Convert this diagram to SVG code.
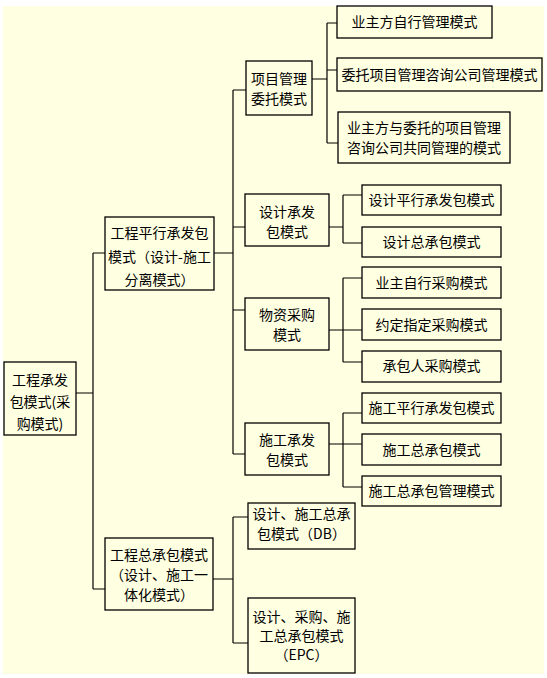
<svg xmlns="http://www.w3.org/2000/svg" width="547" height="678" viewBox="0 0 547 678">
<style>
.b{fill:none;stroke:#000;stroke-width:1.3}
.t{font-family:"SimSun","Noto Sans CJK SC",sans-serif;font-size:14px;fill:#000;text-anchor:middle}
.c{fill:none;stroke:#000;stroke-width:1.2}
</style>
<rect x="0" y="0" width="547" height="678" fill="#fff"/>
<rect x="3" y="6" width="541" height="668" fill="#ffffe1"/>
<g id="connectors">
<path class="c" d="M76,393H93M93,253V589M93,253H105M93,589H105"/>
<path class="c" d="M214,253H233M233,90V454M233,90H246M233,227H245M233,310H245M233,454H245"/>
<path class="c" d="M312,79H327M327,23V143M327,23H337M327,70H337M327,143H338"/>
<path class="c" d="M329,227H343M343,195V243M343,195H362M343,243H362"/>
<path class="c" d="M329,330H362M343,278V362M343,278H362M343,362H362"/>
<path class="c" d="M329,444H362M343,413V487M343,413H362M343,487H362"/>
<path class="c" d="M213,579H233M233,517V643M233,517H248M233,643H248"/>
</g>
<g id="root"><rect class="b" x="4" y="362" width="72" height="73"/>
<text class="t" x="40" y="385">工程承发</text><text class="t" x="40" y="407">包模式(采</text><text class="t" x="40" y="429">购模式)</text></g>
<g id="parallel"><rect class="b" x="105" y="217" width="109" height="73"/>
<text class="t" x="159.5" y="238">工程平行承发包</text><text class="t" x="159.5" y="262">模式（设计-施工</text><text class="t" x="159.5" y="285">分离模式）</text></g>
<g id="pm"><rect class="b" x="246" y="61" width="66" height="54"/>
<text class="t" x="279" y="84">项目管理</text><text class="t" x="279" y="104">委托模式</text></g>
<g id="pm1"><rect class="b" x="337" y="6" width="155" height="32"/>
<text class="t" x="414.5" y="27">业主方自行管理模式</text></g>
<g id="pm2"><rect class="b" x="337" y="58" width="205" height="33"/>
<text class="t" x="439.5" y="80">委托项目管理咨询公司管理模式</text></g>
<g id="pm3"><rect class="b" x="338" y="112" width="172" height="51"/>
<text class="t" x="424" y="133">业主方与委托的项目管理</text><text class="t" x="424" y="153">咨询公司共同管理的模式</text></g>
<g id="design"><rect class="b" x="245" y="194" width="84" height="52"/>
<text class="t" x="287" y="217">设计承发</text><text class="t" x="287" y="237">包模式</text></g>
<g id="design1"><rect class="b" x="362" y="185" width="139" height="30"/>
<text class="t" x="431.5" y="205">设计平行承发包模式</text></g>
<g id="design2"><rect class="b" x="362" y="227" width="139" height="30"/>
<text class="t" x="431.5" y="247">设计总承包模式</text></g>
<g id="material"><rect class="b" x="245" y="298" width="84" height="52"/>
<text class="t" x="287" y="320">物资采购</text><text class="t" x="287" y="340">模式</text></g>
<g id="material1"><rect class="b" x="362" y="267" width="139" height="31"/>
<text class="t" x="431.5" y="288">业主自行采购模式</text></g>
<g id="material2"><rect class="b" x="362" y="309" width="139" height="31"/>
<text class="t" x="431.5" y="330">约定指定采购模式</text></g>
<g id="material3"><rect class="b" x="362" y="351" width="139" height="31"/>
<text class="t" x="431.5" y="371">承包人采购模式</text></g>
<g id="construct"><rect class="b" x="245" y="423" width="84" height="52"/>
<text class="t" x="287" y="445">施工承发</text><text class="t" x="287" y="465">包模式</text></g>
<g id="construct1"><rect class="b" x="362" y="393" width="139" height="30"/>
<text class="t" x="431.5" y="413">施工平行承发包模式</text></g>
<g id="construct2"><rect class="b" x="362" y="434" width="139" height="31"/>
<text class="t" x="431.5" y="455">施工总承包模式</text></g>
<g id="construct3"><rect class="b" x="362" y="476" width="139" height="30"/>
<text class="t" x="431.5" y="496">施工总承包管理模式</text></g>
<g id="general"><rect class="b" x="105" y="538" width="108" height="72"/>
<text class="t" x="159" y="560">工程总承包模式</text><text class="t" x="159" y="580">（设计、施工一</text><text class="t" x="159" y="600">体化模式）</text></g>
<g id="db"><rect class="b" x="248" y="503" width="107" height="46"/>
<text class="t" x="301.5" y="519">设计、施工总承</text><text class="t" x="301.5" y="539">包模式（DB）</text></g>
<g id="epc"><rect class="b" x="248" y="598" width="107" height="75"/>
<text class="t" x="301.5" y="622">设计、采购、施</text><text class="t" x="301.5" y="641">工总承包模式</text><text class="t" x="301.5" y="660">（EPC）</text></g>
</svg>
